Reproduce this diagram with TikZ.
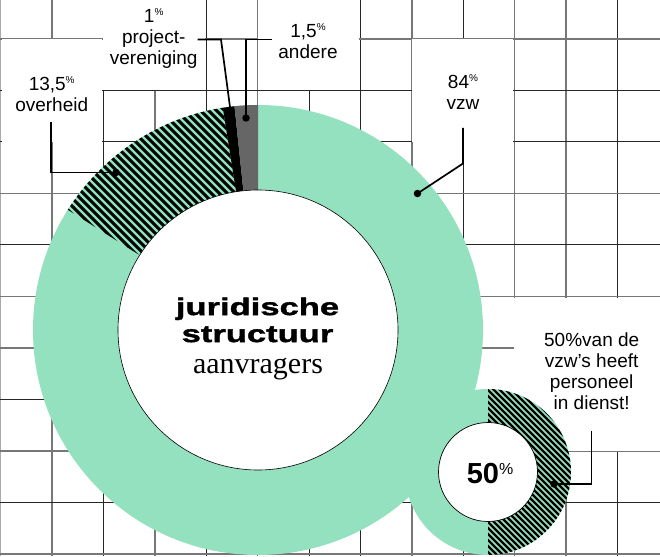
\documentclass[tikz,border=0pt]{standalone}
\usepackage{fontspec}
\setmainfont{Liberation Sans}
\newfontfamily\wide[FakeStretch=1.44,FakeBold=1.6]{Liberation Sans Bold}
\newfontfamily\serifa{Liberation Serif}
\usetikzlibrary{calc}
\definecolor{mint}{HTML}{93E1BF}
\definecolor{gridg}{HTML}{777777}
\definecolor{gridl}{HTML}{AAAAAA}
\definecolor{wedge}{HTML}{666666}
\tikzset{x=1pt,y=-1pt,
 glinea/.style={draw=gridg,line width=1.5pt},
 glineb/.style={draw=black!85,line width=1pt},
 glinec/.style={draw=gridl,line width=1.4pt},
 lab/.style={align=center,font=\fontsize{19}{21}\selectfont,inner sep=0pt},
 lead/.style={draw=black,line width=1.7pt},
 dotm/.style={circle,fill=black,inner sep=0pt,minimum size=7.5pt}}
\newcommand{\pct}{\raisebox{6.6pt}{\fontsize{10}{10}\selectfont\%}}
\begin{document}
\begin{tikzpicture}
\useasboundingbox (0,0) rectangle (660,556);
\fill[white] (0,0) rectangle (660,556);
% grid
\foreach \k/\s in {0/glinec,1/glinea,2/glineb,3/glinea,4/glineb,5/glinea,6/glineb,7/glineb,8/glinea,9/glineb,10/glinea,11/glinea,12/glineb}
  {\path[\s] (\k*51.4+0.6,0) -- (\k*51.4+0.6,556);}
\foreach \k/\s in {0/glinea,1/glineb,2/glineb,3/glinea,4/glineb,5/glinea,6/glinea,7/glineb,8/glinea,9/glineb,10/glinea}
  {\path[\s] (0,38.8+\k*51.5) -- (660,38.8+\k*51.5);}
% label boxes
\fill[white] (1.5,39.5) rectangle (101.7,141.7);
\fill[white] (103,0) rectangle (204.8,89.7);
\fill[white] (257.6,0) rectangle (358.8,89.7);
\fill[white] (411.6,39.5) rectangle (513,141.7);
\fill[white] (514.4,297.5) rectangle (660,451.3);
% big donut
\coordinate (bc) at (258,330);
\coordinate (sc) at (488,472);
\fill[mint] (bc) circle[radius=225];
\fill[mint] (sc) circle[radius=83];
% hatched sectors
\begin{scope}
 \clip (258,330) -- ++(-99:265) arc[start angle=-99,end angle=-147.7,radius=265] -- cycle;
 \clip (bc) circle[radius=225];
 \foreach \i in {-70,...,50}{\draw[black,line width=3pt] (\i*8+60,90) -- ++(240,240);}
\end{scope}
\begin{scope}
 \clip (488,380) rectangle (600,560);
 \clip (sc) circle[radius=83];
 \foreach \i in {-45,...,45}{\draw[black,line width=2.3pt] (\i*6+490,380) -- ++(190,190);}
\end{scope}
% thin wedges
\fill[black] (258,330) -- ++(-99:225) arc[start angle=-99,end angle=-96,radius=225] -- cycle;
\fill[wedge] (258,330) -- ++(-96:225) arc[start angle=-96,end angle=-90,radius=225] -- cycle;
% holes
\node[circle,fill=white,draw=black,line width=0.6pt,minimum size=280pt,inner sep=0pt] (hole) at (bc) {};
\node[circle,fill=white,draw=black,line width=0.7pt,minimum size=99pt,inner sep=0pt] (shole) at (sc) {};
% centre text
\node[inner sep=0pt,align=center,font=\wide\fontsize{24}{27}\selectfont] (t1) at (257.5,320) {juridische\\structuur};
\node[inner sep=0pt,anchor=base,font=\serifa\fontsize{30}{30}\selectfont] (t2) at (258,373) {aanvragers};
\node[inner sep=0pt,anchor=base,font=\fontsize{29}{29}\selectfont\bfseries] (t3) at (490,483) {50\raisebox{9pt}{\fontsize{16}{16}\selectfont\mdseries\%}};
% labels
\node[lab] (l1) at (153.7,38.5) {1\pct\\project-\\vereniging};
\node[lab] (l2) at (308,41) {1,5\pct\\andere};
\node[lab] (l3) at (51.7,94) {13,5\pct\\overheid};
\node[lab] (l4) at (463,92) {84\pct\\vzw};
\node[lab] (l5) at (591.7,371) {50\%van de\\vzw’s heeft\\personeel\\in dienst!};
% leaders
\coordinate (a1) at (197.5,39.5); \coordinate (a2) at (221,39.5); \coordinate (a3) at (230,107);
\draw[lead] (a1) -- (a2) -- (a3);
\coordinate (b1) at (272,39.5); \coordinate (b2) at (246,39.5);
\node[dotm] (bd) at (246,118) {};
\draw[lead] (b1) -- (b2) -- (bd.center);
\coordinate (c1) at (51,122); \coordinate (c2) at (51,172.5);
\node[dotm] (cd) at (116,172.5) {};
\draw[lead] (c1) -- (c2) -- (cd.center);
\coordinate (d1) at (463,128); \coordinate (d2) at (463,163.5);
\node[dotm] (dd) at (417.5,193.5) {};
\draw[lead] (d1) -- (d2) -- (dd.center);
\coordinate (e1) at (591.5,431); \coordinate (e2) at (591.5,484);
\node[dotm] (ed) at (554,484) {};
\draw[lead] (e1) -- (e2) -- (ed.center);
\end{tikzpicture}
\end{document}
